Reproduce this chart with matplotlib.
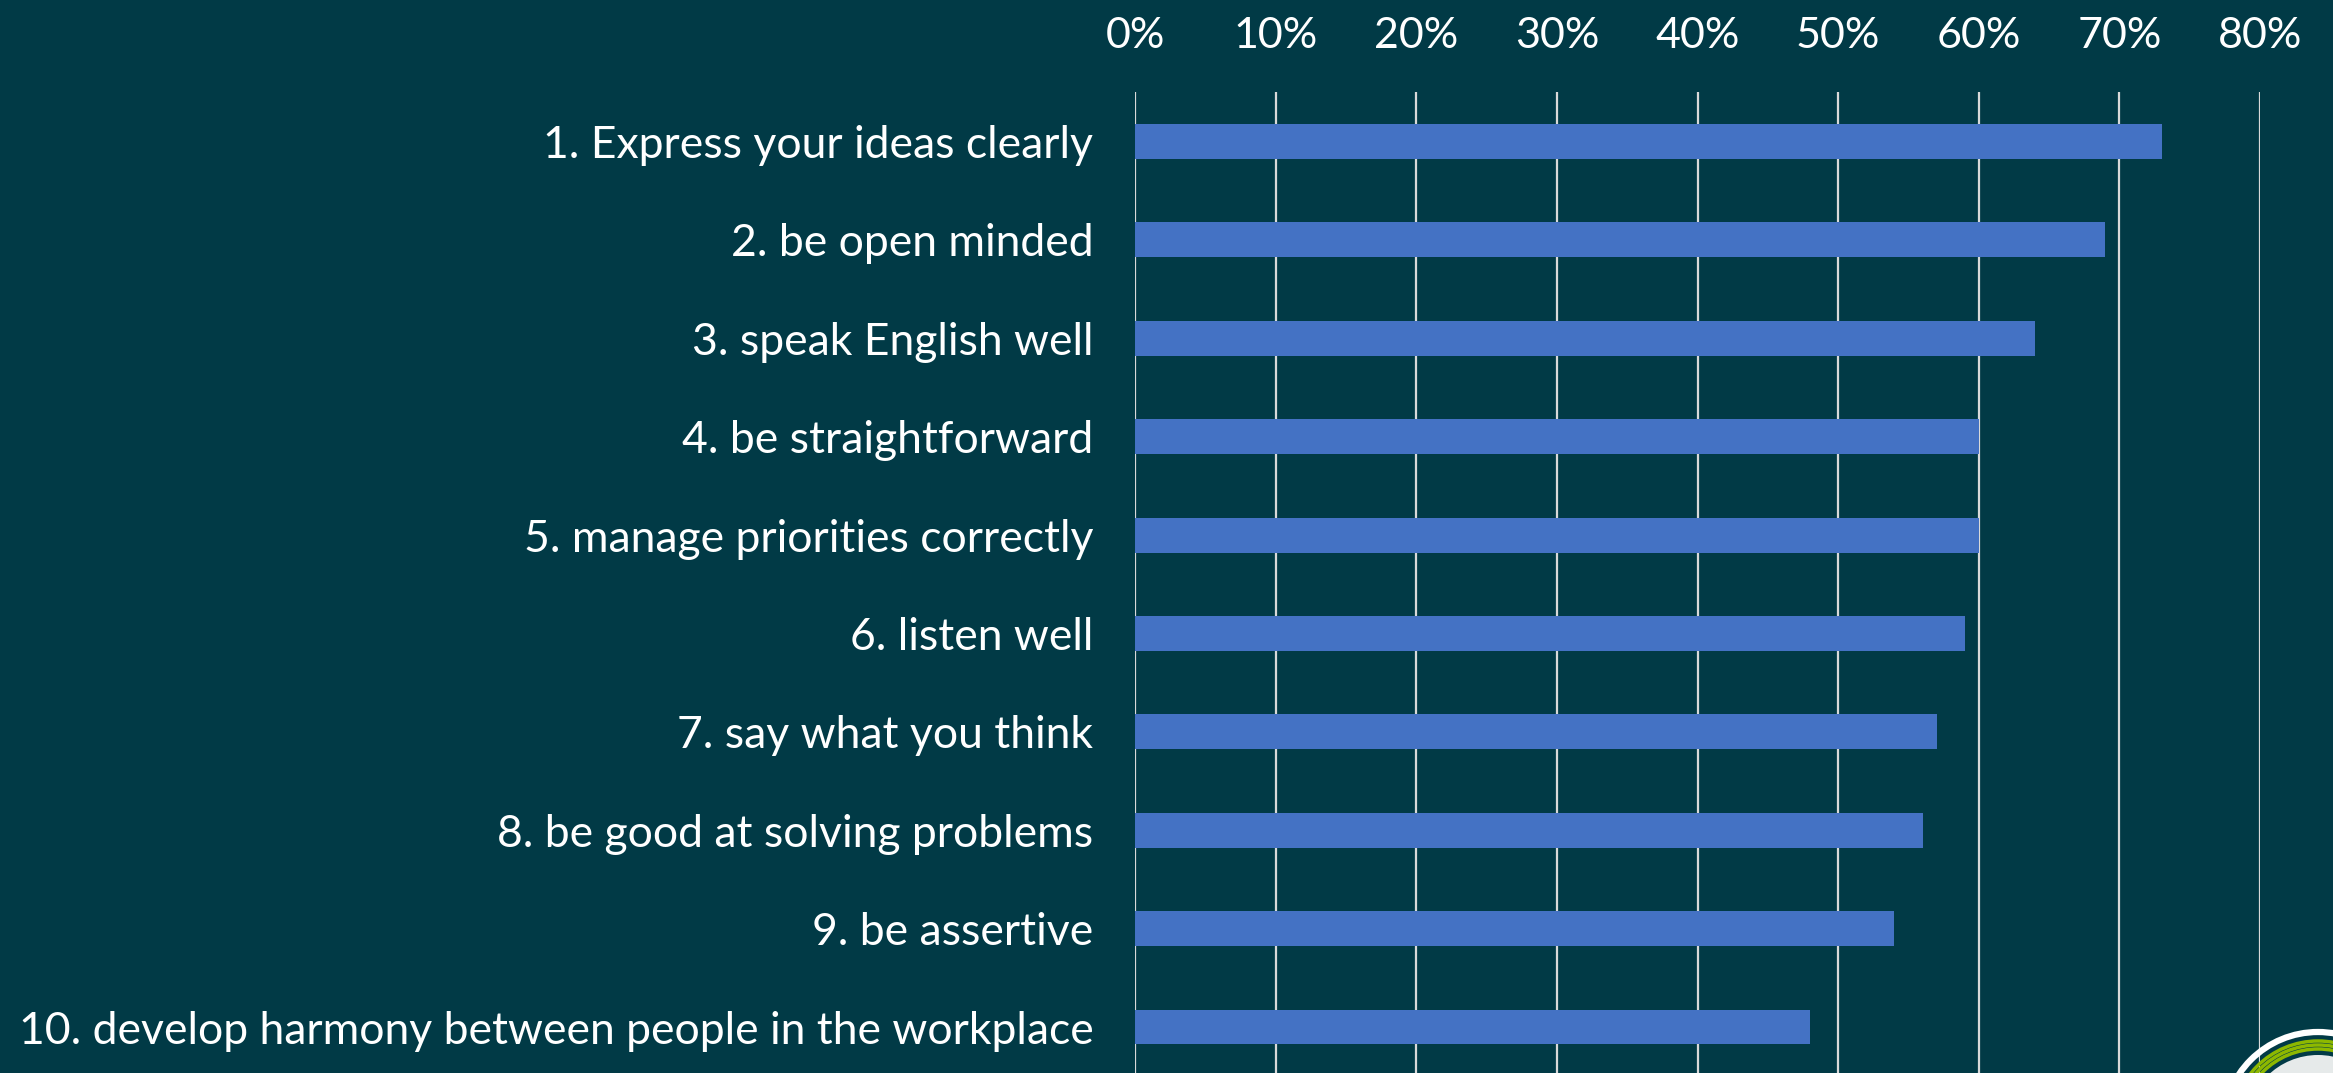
import matplotlib
matplotlib.use("Agg")
import matplotlib.pyplot as plt
from matplotlib.patches import Circle
from matplotlib.ticker import PercentFormatter

# survey results: share of respondents per skill
skills = [
    "1. Express your ideas clearly",
    "2. be open minded",
    "3. speak English well",
    "4. be straightforward",
    "5. manage priorities correctly",
    "6. listen well",
    "7. say what you think",
    "8. be good at solving problems",
    "9. be assertive",
    "10. develop harmony between people in the workplace",
]
shares = [0.73, 0.69, 0.64, 0.60, 0.60, 0.59, 0.57, 0.56, 0.54, 0.48]
x_ticks = [0, 0.1, 0.2, 0.3, 0.4, 0.5, 0.6, 0.7, 0.8]

bg = "#013a46"
bar_color = "#4472c4"
plt.rcParams["font.family"] = ["Lato", "DejaVu Sans"]

W, H = 2333, 1073
fig = plt.figure(figsize=(W / 100, H / 100), dpi=100, facecolor=bg)
ax = fig.add_axes([1135 / W, -0.003, (2260 - 1135) / W, 0.917])
ax.set_facecolor(bg)

ypos = list(range(len(skills)))
ax.barh(ypos, shares, height=0.355, color=bar_color, zorder=3)
ax.set_ylim(len(skills) - 0.5, -0.5)
ax.set_xlim(0, 0.8)

ax.set_yticks(ypos)
ax.set_yticklabels(skills, fontsize=32, color="white")
ax.set_xticks(x_ticks)
ax.xaxis.set_major_formatter(PercentFormatter(1.0, decimals=0))
ax.xaxis.tick_top()
ax.tick_params(axis="x", labelsize=31, labelcolor="white", length=0, pad=27)
ax.tick_params(axis="y", length=0, pad=30)
ax.grid(axis="x", color="#d9d9d9", linewidth=1.6, zorder=1)
for s in ax.spines.values():
    s.set_visible(False)

# corner logo, drawn on a pixel-scaled overlay
lax = fig.add_axes([0, 0, 1, 1], zorder=5)
lax.set_xlim(0, W)
lax.set_ylim(0, H)
lax.axis("off")
cx, cy = 2318, -54
lax.add_patch(Circle((cx, cy), 72, facecolor="#e6eaea", edgecolor="none"))
for r, col, lw in [(95, "white", 4.5), (86, "#8db800", 2.5), (82, "#8db800", 2.5), (78, "#8db800", 2.5)]:
    lax.add_patch(Circle((cx, cy), r, fill=False, edgecolor=col, linewidth=lw))

fig.savefig("out.png", dpi=100, facecolor=bg)
